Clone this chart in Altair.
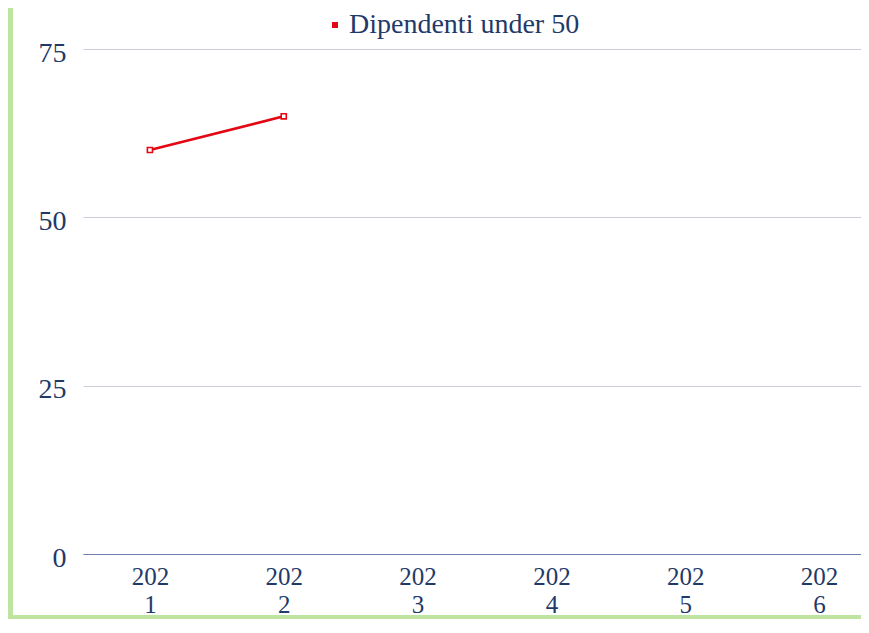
import altair as alt
import pandas as pd

years = ["2021", "2022", "2023", "2024", "2025", "2026"]
values = [60, 65, None, None, None, None]
series_name = "Dipendenti under 50"
y_ticks = [0, 25, 50, 75]

df = pd.DataFrame({"year": years, "value": values,
                   "series": [series_name] * len(years)})

NAVY = "#1F3A68"
RED = "#E30613"
GREEN = "#BFE3A1"
FONT = "Liberation Serif"

x_enc = alt.X(
    "year:N", sort=years,
    scale=alt.Scale(range=[0, 803]),
    axis=alt.Axis(
        title=None, labelAngle=0, ticks=False, tickSize=0, grid=False,
        labelExpr="[substring(datum.label, 0, 3), substring(datum.label, 3)]",
        labelFont=FONT, labelFontSize=25, labelColor=NAVY,
        labelBaseline="top", labelPadding=10, labelLineHeight=28,
        domainColor="#7080AE", domainWidth=1, zindex=1,
    ),
)
y_enc = alt.Y(
    "value:Q",
    scale=alt.Scale(domain=[0, 75], nice=False, zero=True),
    axis=alt.Axis(
        title=None, values=y_ticks, ticks=False, tickSize=0, domain=False,
        grid=True, gridColor="#CBCED8", gridWidth=1,
        labelFont=FONT, labelFontSize=28, labelColor=NAVY,
        labelPadding=17, labelOffset=4,
    ),
)

base = alt.Chart(df)

line = base.mark_line(strokeWidth=2.6).encode(
    x=x_enc, y=y_enc,
    color=alt.Color(
        "series:N",
        scale=alt.Scale(domain=[series_name], range=[RED]),
        legend=alt.Legend(
            title=None, orient="none", legendX=236, legendY=-38,
            symbolType="square", symbolSize=36, symbolFillColor=RED,
            symbolStrokeColor=RED, symbolStrokeWidth=0, symbolOffset=2,
            labelFont=FONT, labelFontSize=28, labelColor=NAVY,
            labelOffset=0, labelLimit=0, padding=0,
        ),
    ),
)

points = base.mark_point(shape="square", filled=True, fill="white",
                         stroke=RED, strokeWidth=1.6, size=26, opacity=1).encode(
    x=alt.X("year:N", sort=years), y="value:Q"
)

one = alt.Data(values=[{"k": 1}])
left_strip = alt.Chart(one).mark_rect(color=GREEN).encode(
    x=alt.value(-75), x2=alt.value(-70), y=alt.value(-41), y2=alt.value(600)
)
bottom_band = alt.Chart(one).mark_rect(color=GREEN).encode(
    x=alt.value(-75), x2=alt.value(820), y=alt.value(566), y2=alt.value(600)
)

chart = alt.layer(left_strip, bottom_band, line, points).properties(
    width=778, height=505,
    padding={"left": 75, "top": 41, "right": 0, "bottom": 65},
    autosize=alt.AutoSizeParams(type="none"),
    background="white",
).configure_view(stroke=None)

chart.save("out.html", embed_options={"renderer": "svg", "actions": False})
